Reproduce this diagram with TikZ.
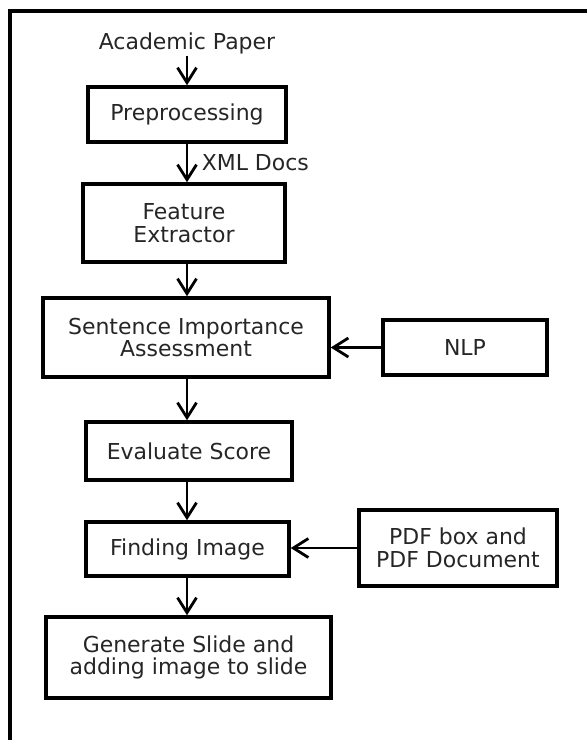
\documentclass[tikz,border=0pt]{standalone}
\usepackage{fontspec}
\setmainfont{DejaVu Sans}
\usetikzlibrary{arrows.meta, positioning, calc}

\begin{document}
\begin{tikzpicture}[x=0.02cm, y=-0.02cm,
    box/.style={draw, line width=2pt, align=center, inner sep=0pt},
    flow/.style={line width=1.6pt, -{Straight Barb[length=3mm, width=3.8mm, line width=1.6pt]}},
    every node/.style={font=\fontsize{12.5}{13}\selectfont, text=black!85}]
    \useasboundingbox (0,0) rectangle (587,740);
    \draw[line width=2.2pt] (10,740) -- (10,11) -- (587,11);

    \node[inner sep=1pt] (paper) at (187,43) {Academic Paper};
    \node[box, minimum width=3.96cm, minimum height=1.1cm] (prep) at (187,114.5) {Preprocessing};
    \node[box, minimum width=4.04cm, minimum height=1.56cm] (feat) at (184,223) {Feature\\Extractor};
    \node[box, minimum width=5.72cm, minimum height=1.58cm] (sent) at (186,337.5) {Sentence Importance\\Assessment};
    \node[box, minimum width=3.28cm, minimum height=1.1cm] (nlp) at (465,347.5) {NLP};
    \node[box, minimum width=4.12cm, minimum height=1.16cm] (eval) at (189,451) {Evaluate Score};
    \node[box, minimum width=4.06cm, minimum height=1.08cm] (find) at (187.5,549) {Finding Image};
    \node[box, minimum width=3.96cm, minimum height=1.52cm] (pdf) at (458,548) {PDF box and\\PDF Document};
    \node[box, minimum width=5.7cm, minimum height=1.62cm] (gen) at (188.5,657.5) {Generate Slide and\\adding image to slide};

    \draw[flow] (paper) -- (paper |- prep.north);
    \draw[flow] (prep.south) -- (prep.south |- feat.north)
        node[midway, right=1.5mm] {XML Docs};
    \draw[flow] (feat.south -| prep.south) -- (prep.south |- sent.north);
    \draw[flow] (sent.south -| prep.south) -- (prep.south |- eval.north);
    \draw[flow] (eval.south -| prep.south) -- (prep.south |- find.north);
    \draw[flow] (find.south -| prep.south) -- (prep.south |- gen.north);
    \draw[flow] (nlp.west) -- (nlp.west -| sent.east);
    \draw[flow] (pdf.west) -- (pdf.west -| find.east);
\end{tikzpicture}
\end{document}
